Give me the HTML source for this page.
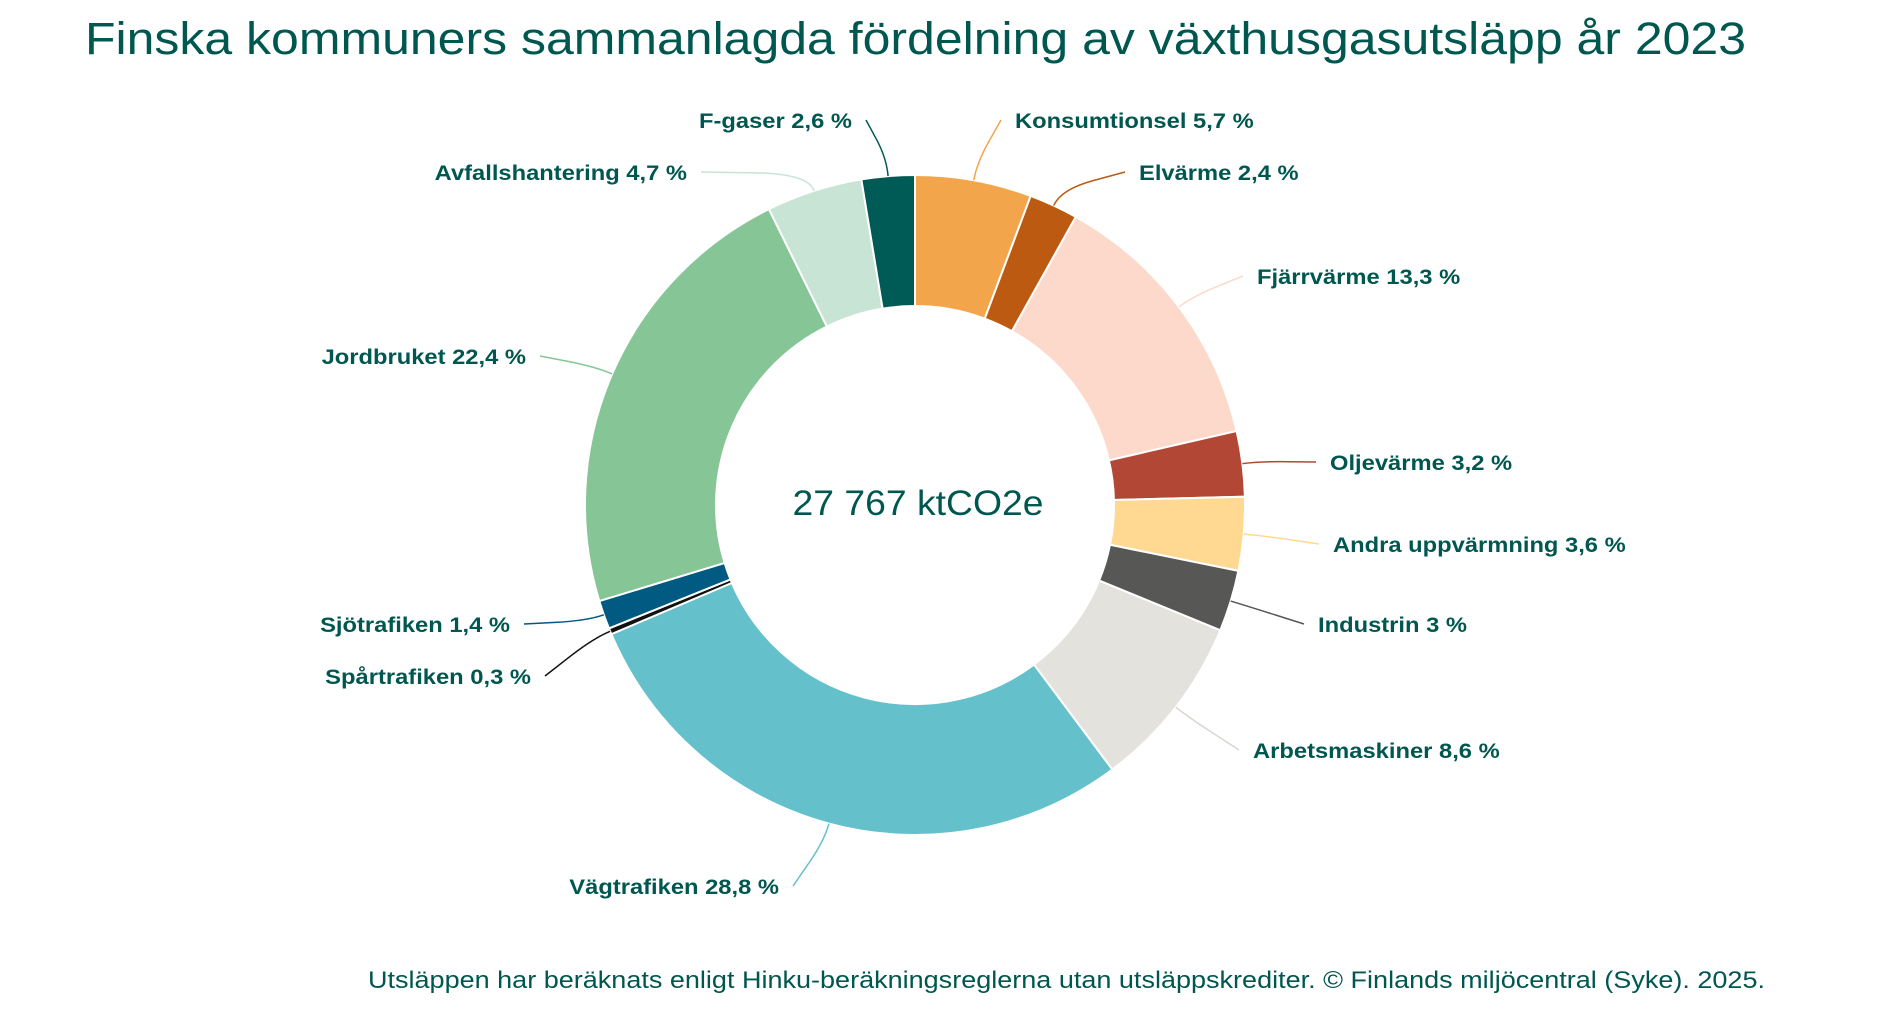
<!DOCTYPE html>
<html><head><meta charset="utf-8"><style>
html,body{margin:0;padding:0;background:#fff;width:1900px;height:1010px;overflow:hidden}
svg{display:block}
text{font-family:"Liberation Sans",sans-serif}
</style></head><body>
<svg width="1900" height="1010" viewBox="0 0 1900 1010">
<text x="85" y="54" font-size="45" fill="#00574f" textLength="1661" lengthAdjust="spacingAndGlyphs">Finska kommuners sammanlagda fördelning av växthusgasutsläpp år 2023</text>
<g id="slices"></g>
<g id="leaders"></g>
<g id="labels"></g>
<text x="918" y="515" font-size="35" fill="#00574f" text-anchor="middle" textLength="251" lengthAdjust="spacingAndGlyphs">27 767 ktCO2e</text>
<text x="368" y="988" font-size="24" fill="#00574f" textLength="1397" lengthAdjust="spacingAndGlyphs">Utsläppen har beräknats enligt Hinku-beräkningsreglerna utan utsläppskrediter. © Finlands miljöcentral (Syke). 2025.</text>
</svg>
<script>
const categories = ["Konsumtionsel","Elvärme","Fjärrvärme","Oljevärme","Andra uppvärmning","Industrin","Arbetsmaskiner","Vägtrafiken","Spårtrafiken","Sjötrafiken","Jordbruket","Avfallshantering","F-gaser"];
const values = [5.7,2.4,13.3,3.2,3.6,3,8.6,28.8,0.3,1.4,22.4,4.7,2.6];
const valueLabels = ["5,7","2,4","13,3","3,2","3,6","3","8,6","28,8","0,3","1,4","22,4","4,7","2,6"];
const colors = ["#f3a54c","#bb5a10","#fcd9cb","#b34735","#ffd991","#575756","#e3e2dd","#64c0cb","#111111","#005a82","#86c596","#c8e4d4","#005a55"];
// label layout (x anchor, y baseline, side)
const labelLayout = [[1015,128,1],[1139,180,1],[1257,284,1],[1330,470,1],[1333,552,1],[1318,632,1],[1253,758,1],[779,894,-1],[531,684,-1],[510,632,-1],[526,364,-1],[687,180,-1],[852,128,-1]];
const cx=915, cy=505, R=330, r=199;
const NS="http://www.w3.org/2000/svg";
const total=values.reduce((a,b)=>a+b,0);
function pt(a,rad){return [cx+rad*Math.sin(a), cy-rad*Math.cos(a)];}
const gS=document.getElementById('slices'),gL=document.getElementById('leaders'),gT=document.getElementById('labels');
let acc=0;
values.forEach((v,i)=>{
  const a0=acc/total*2*Math.PI; acc+=v; const a1=acc/total*2*Math.PI;
  const large=(a1-a0)>Math.PI?1:0;
  const p0=pt(a0,R),p1=pt(a1,R),q1=pt(a1,r),q0=pt(a0,r);
  const p=document.createElementNS(NS,'path');
  p.setAttribute('d',`M${p0[0]},${p0[1]} A${R},${R} 0 ${large} 1 ${p1[0]},${p1[1]} L${q1[0]},${q1[1]} A${r},${r} 0 ${large} 0 ${q0[0]},${q0[1]} Z`);
  p.setAttribute('fill',colors[i]);p.setAttribute('stroke','#fff');p.setAttribute('stroke-width','2');
  
  
  gS.appendChild(p);
  const am=(a0+a1)/2; const s=pt(am,R); const s2=pt(am,R+18);
  const L=labelLayout[i]; const ex=L[0]-L[2]*14, ey=L[1]-8;
  const ln=document.createElementNS(NS,'path');
  ln.setAttribute('d',`M${s[0]},${s[1]} Q${s2[0]},${s2[1]} ${(s2[0]+ex)/2},${(s2[1]+ey)/2} T${ex},${ey}`);
  ln.setAttribute('fill','none');ln.setAttribute('stroke',colors[i]==="#e3e2dd"?"#d8d7d2":colors[i]);ln.setAttribute('stroke-width','1.5');
  
  
  gL.appendChild(ln);
  const t=document.createElementNS(NS,'text');
  t.setAttribute('x',L[0]);t.setAttribute('y',L[1]);t.setAttribute('font-size','21');t.setAttribute('font-weight','bold');t.setAttribute('fill','#00574f');
  t.setAttribute('text-anchor',L[2]>0?'start':'end');
  t.textContent=categories[i]+' '+valueLabels[i]+' %';
  
  
  gT.appendChild(t);
  const w=t.getComputedTextLength();
  if(w>0){t.setAttribute('textLength',(w*1.13).toFixed(1));t.setAttribute('lengthAdjust','spacingAndGlyphs');}
});
</script>
</body></html>
